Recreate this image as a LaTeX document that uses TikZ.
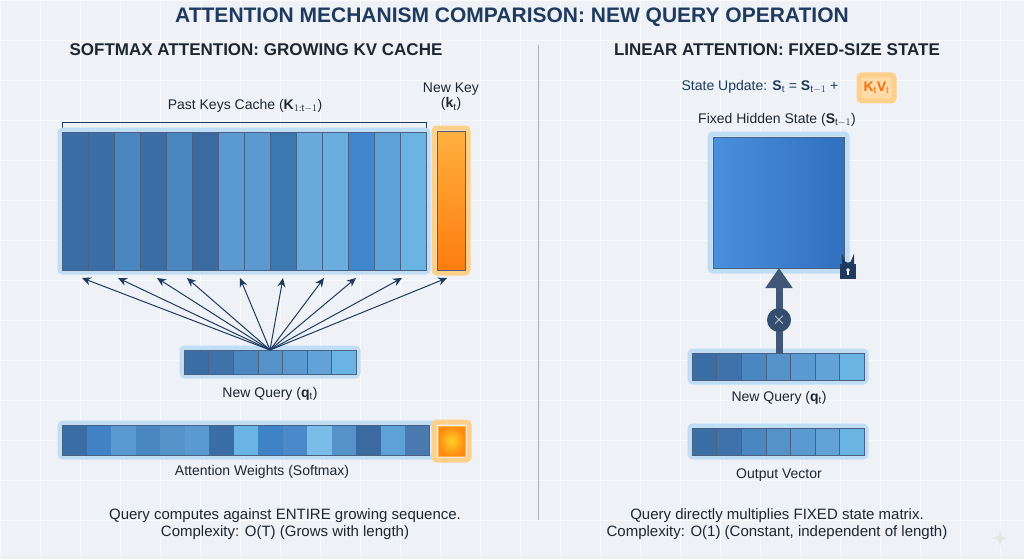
\documentclass[tikz,border=0pt]{standalone}
\usepackage{fontspec}
\setmainfont{Liberation Sans}
\usetikzlibrary{arrows.meta,calc}
\definecolor{bg}{HTML}{EEF2F6}
\definecolor{navy}{HTML}{1F3A5F}
\definecolor{txt}{HTML}{1E2630}
\definecolor{glow}{HTML}{BFDDF5}
\definecolor{org}{HTML}{FF8A10}
\definecolor{orgl}{HTML}{FFB040}
\definecolor{sql}{HTML}{4A90DC}
\definecolor{sqd}{HTML}{3070BE}
\tikzset{
  cell/.style={draw=navy!80,line width=0.6pt},
  halo/.style={draw=glow,line width=5pt,rounded corners=3pt},
  ohalo/.style={draw=orgl!60,line width=5pt,rounded corners=3pt},
  lab/.style={font=\fontsize{14}{16}\selectfont,text=txt},
  head/.style={font=\bfseries\fontsize{17}{19}\selectfont,text=txt},
  ray/.style={-{Stealth[length=9pt,width=8pt]},navy,line width=1pt},
}
\begin{document}
\begin{tikzpicture}[x=1pt,y=-1pt]
\useasboundingbox (0,0) rectangle (1024,559);
\fill[bg] (0,0) rectangle (1024,559);
\foreach \x in {0,40,...,1024} \draw[white!60!bg,line width=0.4pt] (\x,0)--(\x,559);
\foreach \y in {0,40,...,559} \draw[white!60!bg,line width=0.4pt] (0,\y)--(1024,\y);
\node[font=\bfseries\fontsize{21}{24}\selectfont,text=navy] (title) at (512,17) {ATTENTION MECHANISM COMPARISON: NEW QUERY OPERATION};
\node[head] (hl) at (256,50) {SOFTMAX ATTENTION: GROWING KV CACHE};
\node[head] (hr) at (777,50) {LINEAR ATTENTION: FIXED-SIZE STATE};
\draw[gray!60,line width=0.8pt] (538,45) -- (538,520);

% ---- left: keys
\node[lab] (pk) at (245,106) {Past Keys Cache ($\mathbf{K}_{1:\mathrm{t}-1}$)};
\draw[navy,line width=0.6pt] (62,128) -- (62,122) -- (426,122) -- (426,128);
\node[lab,align=center] (nk) at (451,97) {New Key\\[-1pt]($\mathbf{k}_\mathrm{t}$)};
\draw[halo] (60,130) rectangle (428,272);
\foreach \c [count=\i from 0] in {3A6EA5,3B6EA6,4A86C0,3A6EA5,4A86C0,3A6AA0,5A9AD0,5A9AD0,3A78B0,6AAADB,6AAEE0,3F86CC,5CA2D6,6AB4E4}{
  \definecolor{cc}{HTML}{\c}
  \fill[cc] ({62+26*\i},132) rectangle ({88+26*\i},270);
  \draw[cell] ({62+26*\i},132) rectangle ({88+26*\i},270);
}
\draw[ohalo] (434,128) rectangle (468,273);
\shade[top color=orgl,bottom color=org!90!red] (437,131) rectangle (465,270);
\draw[cell] (437,131) rectangle (465,270);
\node[inner sep=0,minimum width=28pt,minimum height=139pt] (kt) at (451,200.5) {};

% ---- left: query
\draw[halo] (182,348) rectangle (358,376);
\foreach \c [count=\i from 0] in {3A6EA5,3F72AA,4A86C0,5592C8,5A9AD0,62A2D6,6AB4E4}{
  \definecolor{cc}{HTML}{\c}
  \fill[cc] ({184+24.6*\i},350) rectangle ({208.6+24.6*\i},374);
  \draw[cell] ({184+24.6*\i},350) rectangle ({208.6+24.6*\i},374);
}
\coordinate (q) at (270,350);
\foreach \tx in {82,118,157,187,240,283,324,356,402,447}{
  \coordinate (t) at (\tx,278);
  \draw[ray] (q) -- (t);
}
\node[lab] (ql) at (270,394) {New Query ($\mathbf{q}_\mathrm{t}$)};

% ---- left: weights
\draw[halo] (60,423) rectangle (434,457);
\foreach \c [count=\i from 0] in {3A6EA5,4082C4,5A9AD0,4A86C0,5592C8,5A9AD0,3A6EA5,6AB4E4,3F82C6,4A8ACA,7ABDE8,5592C8,3A6AA0,5CA2D6,4A7AB0}{
  \definecolor{cc}{HTML}{\c}
  \fill[cc] ({62+24.5*\i},425) rectangle ({86.5+24.5*\i},455);
}
\draw[cell] (62,425) rectangle (429.5,455);
\draw[ohalo] (434,422) rectangle (469,460);
\shade[inner color=orgl!60!yellow,outer color=org] (438,426) rectangle (465,456);
\draw[cell,draw=orgl] (438,426) rectangle (465,456);
\node[lab] (wl) at (262,472) {Attention Weights (Softmax)};
\node[lab,font=\fontsize{15}{17}\selectfont,align=center] (bl) at (285,524) {Query computes against ENTIRE growing sequence.\\Complexity: O(T) (Grows with length)};

% ---- right
\node[lab,text=navy] (su) at (760,87) {State Update: $\mathbf{S}_\mathrm{t}$ = $\mathbf{S}_{\mathrm{t}-1}$ +};
\draw[ohalo,fill=orgl!45] (859,75) rectangle (894,101);
\node[font=\bfseries\fontsize{14}{16}\selectfont,text=org!80!red] (kv) at (876.5,88) {K$_\mathrm{t}$V$_\mathrm{t}$};
\node[lab] (fh) at (777,120) {Fixed Hidden State ($\mathbf{S}_{\mathrm{t}-1}$)};
\draw[halo] (710,134) rectangle (847,271);
\shade[left color=sql,right color=sqd] (713,137) rectangle (844,268);
\draw[cell] (713,137) rectangle (844,268);
\node[inner sep=0,minimum width=131pt,minimum height=131pt] (S) at (778.5,202.5) {};
% lock
\fill[navy] (840,264) rectangle (856,279);
\draw[navy,line width=2.2pt] (843,264) -- (843,259) arc[start angle=180,end angle=0,radius=5] -- (853,264);
\fill[white] (848,270) circle (1.8);
\fill[white] (847.3,270) rectangle (848.7,275);
% query right
\draw[halo] (690,351) rectangle (866,382);
\foreach \c [count=\i from 0] in {3A6EA5,3F72AA,4A86C0,5592C8,5A9AD0,62A2D6,6AB4E4}{
  \definecolor{cc}{HTML}{\c}
  \fill[cc] ({692+24.6*\i},353) rectangle ({716.6+24.6*\i},380);
  \draw[cell] ({692+24.6*\i},353) rectangle ({716.6+24.6*\i},380);
}
\coordinate (qr) at (779,353);
\coordinate (sb) at (779,268);
\draw[-{Triangle[length=20pt,width=26pt]},navy!85,line width=7pt] (qr) -- (sb);
\node[circle,fill=navy!90,minimum size=24pt,inner sep=0,text=white,font=\bfseries\fontsize{18}{18}\selectfont] (mul) at (779,320) {$\times$};
\node[lab] (qrl) at (779,398) {New Query ($\mathbf{q}_\mathrm{t}$)};
\draw[halo] (690,426) rectangle (866,457);
\foreach \c [count=\i from 0] in {3A6EA5,3F72AA,4A86C0,5592C8,5A9AD0,62A2D6,6AB4E4}{
  \definecolor{cc}{HTML}{\c}
  \fill[cc] ({692+24.6*\i},428) rectangle ({716.6+24.6*\i},455);
  \draw[cell] ({692+24.6*\i},428) rectangle ({716.6+24.6*\i},455);
}
\node[lab] (ov) at (779,475) {Output Vector};
\node[lab,font=\fontsize{15}{17}\selectfont,align=center] (br) at (777,524) {Query directly multiplies FIXED state matrix.\\Complexity: O(1) (Constant, independent of length)};
% sparkle
\fill[white!80!gray] (1000,528) .. controls (1001,537) .. (1010,538) .. controls (1001,539) .. (1000,548) .. controls (999,539) .. (990,538) .. controls (999,537) .. (1000,528);
\end{tikzpicture}
\end{document}
